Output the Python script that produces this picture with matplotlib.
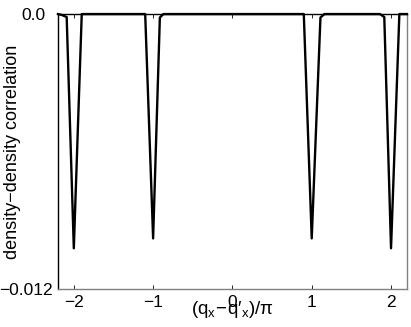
import matplotlib
matplotlib.use('Agg')
import matplotlib.pyplot as plt
import matplotlib.transforms as mtransforms

plt.rcParams['font.family'] = ['Liberation Sans', 'DejaVu Sans']
plt.rcParams['mathtext.default'] = 'regular'

q = [-2.2, -2.15, -2.09, -2.0, -1.9, -1.1, -1.0, -0.915, -0.87, 0.85, 0.9,
     1.0, 1.11, 1.16, 1.86, 1.915, 2.0, 2.105, 2.2]
corr = [0.0, -0.00004, -0.00013, -0.01022, 0.0, 0.0, -0.00979, -0.00015, 0.0,
        0.0, 0.0, -0.00979, -0.00015, 0.0, 0.0, -0.00013, -0.01022, 0.0, 0.0]

xticks = [-2, -1, 0, 1, 2]
xtick_labels = ['\u22122', '\u22121', '0', '1', '2']
yticks = [-0.012, 0.0]
ytick_labels = ['\u22120.012', '0.0']

fig = plt.figure(figsize=(4.11, 3.27), dpi=100)
ax = fig.add_axes([0.141, 0.116, 0.849, 0.841])

ax.plot(q, corr, color='black', linewidth=1.7, clip_on=False, zorder=3)

ax.set_xlim(-2.2, 2.2)
ax.set_ylim(-0.012, 0.0)
ax.set_xticks(xticks)
ax.set_xticklabels(xtick_labels)
ax.set_yticks(yticks)
ax.set_yticklabels(ytick_labels)

ax.tick_params(direction='in', length=3, width=0.6, labelsize=12.5,
               top=True, right=False, colors='black')
ax.tick_params(axis='x', pad=4)
ax.tick_params(axis='y', pad=4)

# the top label sits further from the axis in the original
lbl = ax.get_yticklabels()[1]
lbl.set_transform(lbl.get_transform() +
                  mtransforms.ScaledTranslation(-7 / 100, 0, fig.dpi_scale_trans))

for side in ['bottom', 'right']:
    ax.spines[side].set_color('#808080')
    ax.spines[side].set_linewidth(1.0)
for side in ['left', 'top']:
    ax.spines[side].set_color('black')
    ax.spines[side].set_linewidth(1.0)

ax.set_xlabel("$(q_x\\!-\\!q\u2032_x)/\\pi$", fontsize=13.5, labelpad=-8)
ax.set_ylabel('density\u2212density correlation', fontsize=13, labelpad=-16)

fig.savefig('out.png', dpi=100)
